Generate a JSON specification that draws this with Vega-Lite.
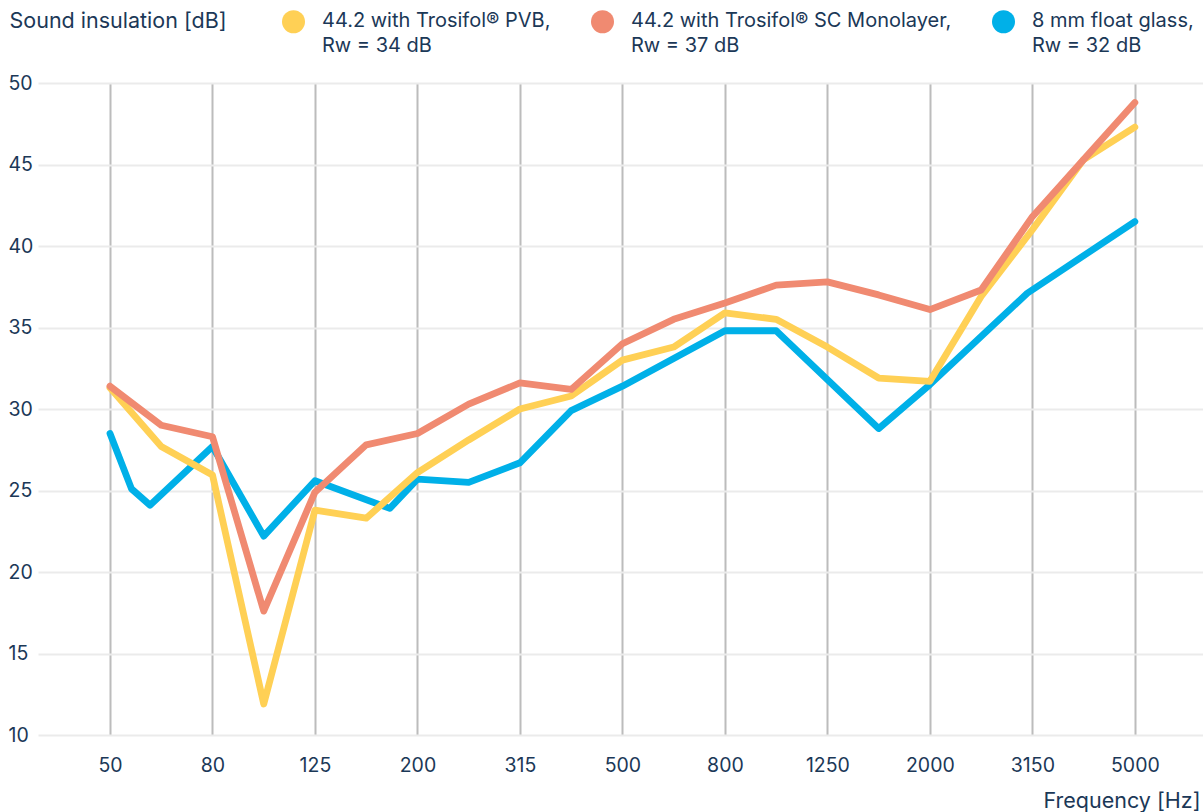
{
  "$schema": "https://vega.github.io/schema/vega-lite/v6.json",
  "width": 1165,
  "height": 652,
  "autosize": {"type": "none"},
  "padding": {"left": 38, "top": 83, "right": 0, "bottom": 77},
  "background": "white",
  "config": {
    "view": {"stroke": null},
    "font": "Inter",
    "axis": {"labelFont": "Inter", "titleFont": "Inter", "labelColor": "#1b3857", "titleColor": "#1b3857", "titleFontWeight": "normal", "labelFontSize": 19.5, "titleFontSize": 21.5},
    "legend": {"labelFont": "Inter", "labelColor": "#1b3857", "labelFontSize": 20}
  },
  "data": {
    "values": [
      {"s": "C", "i": 0, "v": 28.5}, {"s": "C", "i": 0.42, "v": 25.1}, {"s": "C", "i": 0.78, "v": 24.1}, {"s": "C", "i": 2, "v": 27.7}, {"s": "C", "i": 3, "v": 22.2}, {"s": "C", "i": 4, "v": 25.6}, {"s": "C", "i": 5.46, "v": 23.9}, {"s": "C", "i": 6, "v": 25.7}, {"s": "C", "i": 7, "v": 25.5}, {"s": "C", "i": 8, "v": 26.7}, {"s": "C", "i": 9, "v": 29.9}, {"s": "C", "i": 10, "v": 31.4}, {"s": "C", "i": 11, "v": 33.1}, {"s": "C", "i": 12, "v": 34.8}, {"s": "C", "i": 13, "v": 34.8}, {"s": "C", "i": 15, "v": 28.8}, {"s": "C", "i": 16, "v": 31.5}, {"s": "C", "i": 17.9, "v": 37.1}, {"s": "C", "i": 20, "v": 41.5},
      {"s": "A", "i": 0, "v": 31.3}, {"s": "A", "i": 1, "v": 27.7}, {"s": "A", "i": 2, "v": 25.95}, {"s": "A", "i": 3, "v": 11.9}, {"s": "A", "i": 4, "v": 23.8}, {"s": "A", "i": 5, "v": 23.3}, {"s": "A", "i": 6, "v": 26.1}, {"s": "A", "i": 7, "v": 28.1}, {"s": "A", "i": 8, "v": 30.0}, {"s": "A", "i": 9, "v": 30.8}, {"s": "A", "i": 10, "v": 33.0}, {"s": "A", "i": 11, "v": 33.8}, {"s": "A", "i": 12, "v": 35.9}, {"s": "A", "i": 13, "v": 35.5}, {"s": "A", "i": 14, "v": 33.8}, {"s": "A", "i": 15, "v": 31.9}, {"s": "A", "i": 16, "v": 31.7}, {"s": "A", "i": 17, "v": 36.9}, {"s": "A", "i": 18, "v": 41.0}, {"s": "A", "i": 19, "v": 45.3}, {"s": "A", "i": 20, "v": 47.3},
      {"s": "B", "i": 0, "v": 31.4}, {"s": "B", "i": 1, "v": 29.0}, {"s": "B", "i": 2, "v": 28.3}, {"s": "B", "i": 3, "v": 17.6}, {"s": "B", "i": 4, "v": 24.9}, {"s": "B", "i": 5, "v": 27.8}, {"s": "B", "i": 6, "v": 28.5}, {"s": "B", "i": 7, "v": 30.3}, {"s": "B", "i": 8, "v": 31.6}, {"s": "B", "i": 9, "v": 31.2}, {"s": "B", "i": 10, "v": 34.0}, {"s": "B", "i": 11, "v": 35.5}, {"s": "B", "i": 12, "v": 36.5}, {"s": "B", "i": 13, "v": 37.6}, {"s": "B", "i": 14, "v": 37.8}, {"s": "B", "i": 15, "v": 37.0}, {"s": "B", "i": 16, "v": 36.1}, {"s": "B", "i": 17, "v": 37.3}, {"s": "B", "i": 18, "v": 41.8}, {"s": "B", "i": 19, "v": 45.3}, {"s": "B", "i": 20, "v": 48.8}
    ]
  },
  "mark": {"type": "line", "strokeWidth": 6.8, "strokeCap": "round", "strokeJoin": "round"},
  "encoding": {
    "x": {
      "field": "i", "type": "quantitative",
      "scale": {"domain": [-1.405, 21.33], "nice": false, "zero": false},
      "axis": {
        "values": [0, 2, 4, 6, 8, 10, 12, 14, 16, 18, 20],
        "labelExpr": "['50','80','125','200','315','500','800','1250','2000','3150','5000'][datum.value/2]",
        "grid": true, "gridColor": "#bcbcbc", "gridWidth": 2,
        "domain": false, "ticks": false, "tickSize": 0,
        "labelPadding": 30, "labelBaseline": "middle", "labelFlush": false,
        "title": "Frequency [Hz]",
        "titleAnchor": "end", "titleAlign": "right", "titleBaseline": "alphabetic",
        "titleX": 1162, "titleY": 72
      }
    },
    "y": {
      "field": "v", "type": "quantitative",
      "scale": {"domain": [10, 50], "nice": false, "zero": false},
      "axis": {
        "values": [10, 15, 20, 25, 30, 35, 40, 45, 50],
        "grid": true, "gridColor": "#ebebeb", "gridWidth": 2,
        "domain": false, "ticks": false, "tickSize": 0,
        "labelAlign": "left", "labelPadding": 30, "labelBaseline": "middle",
        "title": "Sound insulation [dB]",
        "titleAngle": 0, "titleAlign": "left", "titleBaseline": "middle",
        "titleX": -29, "titleY": -62
      }
    },
    "color": {
      "field": "s", "type": "nominal",
      "scale": {"domain": ["A", "B", "C"], "range": ["#ffd055", "#f08a71", "#00b0e8"]},
      "legend": {
        "title": null,
        "orient": "none", "legendX": 244, "legendY": -73,
        "direction": "horizontal", "columns": 3,
        "symbolType": "circle", "symbolSize": 529, "symbolStrokeWidth": 0,
        "labelOffset": 17, "columnPadding": 40, "labelLimit": 500,
        "labelBaseline": "top",
        "labelExpr": "datum.value == 'A' ? ['44.2 with Trosifol® PVB,', 'Rw = 34 dB'] : datum.value == 'B' ? ['44.2 with Trosifol® SC Monolayer,', 'Rw = 37 dB'] : ['8 mm float glass,', 'Rw = 32 dB']",
        "encode": {
          "symbols": {"update": {"fill": {"scale": "color", "field": "value"}, "strokeWidth": {"value": 0}}},
          "labels": {"update": {"lineHeight": {"value": 25}, "dy": {"value": -11}}}
        }
      }
    }
  }
}
